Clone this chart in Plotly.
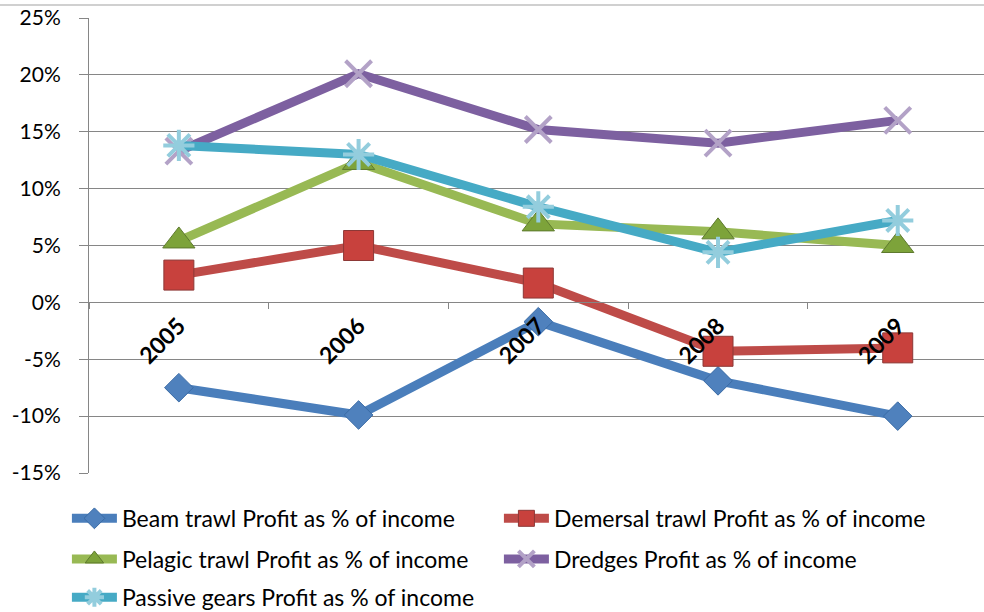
import plotly.graph_objects as go

years = ["2005", "2006", "2007", "2008", "2009"]
beam = [-7.5, -9.9, -1.7, -6.9, -10.0]
demersal = [2.4, 5.0, 1.7, -4.3, -4.0]
pelagic = [5.4, 12.3, 6.9, 6.2, 5.0]
dredges = [13.3, 20.1, 15.2, 14.0, 16.0]
passive = [13.8, 13.0, 8.4, 4.4, 7.2]

names = ["Beam trawl Profit as % of income", "Demersal trawl Profit as % of income",
         "Pelagic trawl Profit as % of income", "Dredges Profit as % of income",
         "Passive gears Profit as % of income"]
yticks = [-15, -10, -5, 0, 5, 10, 15, 20, 25]
ytick_text = ["-15%", "-10%", "-5%", "0%", "5%", "10%", "15%", "20%", "25%"]

FONT = "Lato"

fig = go.Figure()
specs = [
    (beam, "#4A7EBB", dict(symbol="diamond", size=22, color="#4F81BD", line=dict(color="#3A6BA5", width=1)), "legend"),
    (demersal, "#BE4B48", dict(symbol="square", size=30, color="#C8413D", line=dict(color="#8C3836", width=1)), "legend"),
    (pelagic, "#98B954", dict(symbol="triangle-up", size=28, color="#7DA33A", line=dict(color="#5E7A2E", width=1)), "legend2"),
    (dredges, "#7D60A0", dict(symbol="x-thin", size=26, color="#B3A2C7", line=dict(color="#B3A2C7", width=4)), "legend2"),
    (passive, "#46AAC5", dict(symbol="asterisk", size=26, color="#93CDDD", line=dict(color="#93CDDD", width=4)), "legend3"),
]
for (vals, lc, mk, lg), nm in zip(specs, names):
    fig.add_trace(go.Scatter(x=years, y=vals, name=nm, mode="lines+markers",
                             line=dict(color=lc, width=9), marker=mk, legend=lg))

leg_common = dict(orientation="h", xref="container", yref="container", xanchor="left",
                  yanchor="middle", entrywidth=372, itemwidth=45, font=dict(size=23, family=FONT),
                  bgcolor="rgba(0,0,0,0)", x=0.068)
fig.update_layout(
    width=984, height=612,
    margin=dict(l=89, r=0, t=18, b=139, autoexpand=False),
    paper_bgcolor="white", plot_bgcolor="white",
    font=dict(family=FONT, color="black", size=20),
    showlegend=True,
    legend=dict(leg_common, y=0.153),
    legend2=dict(leg_common, y=0.0866),
    legend3=dict(leg_common, y=0.024),
    shapes=[dict(type="line", xref="paper", yref="paper", x0=-0.2, x1=1.1,
                 y0=1.0286, y1=1.0286, line=dict(color="#D0D0D0", width=2))],
)

fig.update_yaxes(range=[-15, 25], tickvals=yticks, ticktext=ytick_text,
                 showgrid=True, gridcolor="#868686", gridwidth=1,
                 zeroline=False, showline=True, linecolor="#868686", linewidth=1,
                 ticks="outside", ticklen=9, tickcolor="#868686", automargin=False,
                 ticklabelstandoff=14, tickfont=dict(size=21, family=FONT))

fig.update_xaxes(type="category", range=[-0.5, 4.48], anchor="free", position=0.375,
                 showgrid=False, zeroline=False, showline=True, linecolor="#868686", linewidth=1,
                 ticks="outside", ticklen=6, tickcolor="#868686", tickson="boundaries",
                 automargin=False,
                 tickangle=-45, tickfont=dict(size=23, family=FONT, weight="bold"))

fig.write_html("out.html", config={"displayModeBar": False},
               post_script="document.body.style.margin='0';document.body.style.overflow='hidden';")
